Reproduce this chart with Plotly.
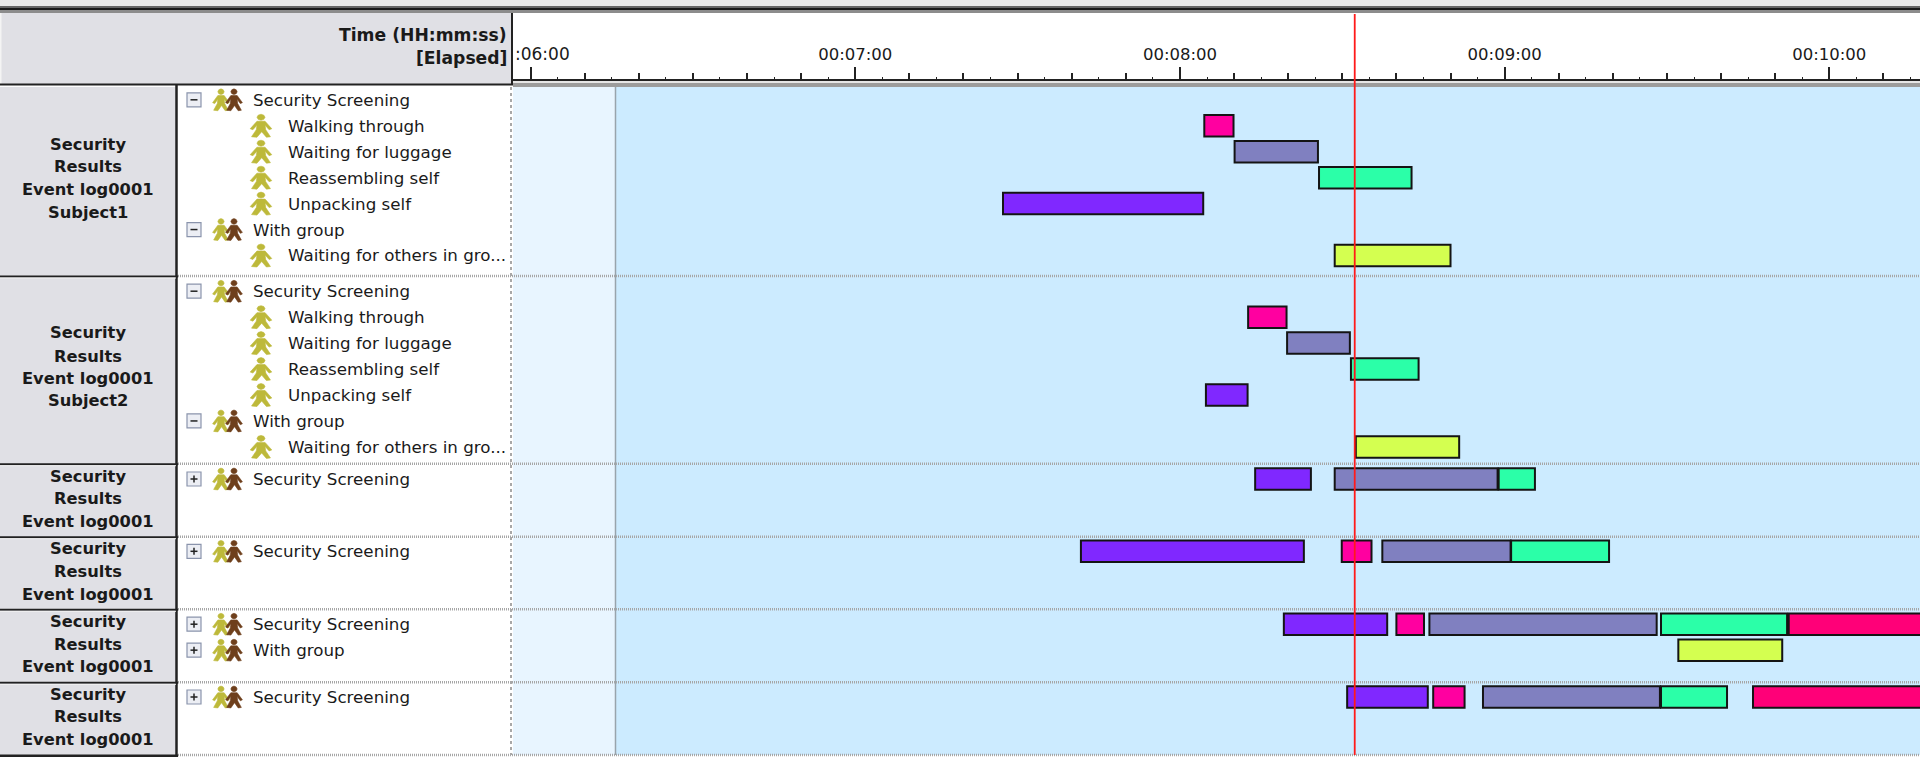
import plotly.graph_objects as go

# ---------- data (times in elapsed seconds) ----------
row_labels = [
    ["Security", "Results", "Event log0001", "Subject1"],
    ["Security", "Results", "Event log0001", "Subject2"],
    ["Security", "Results", "Event log0001"],
    ["Security", "Results", "Event log0001"],
    ["Security", "Results", "Event log0001"],
    ["Security", "Results", "Event log0001"],
]
expanded_tree = [
    ("Security Screening", 0), ("Walking through", 1), ("Waiting for luggage", 1),
    ("Reassembling self", 1), ("Unpacking self", 1), ("With group", 0),
    ("Waiting for others in gro...", 1),
]
collapsed_trees = [["Security Screening"], ["Security Screening"],
                   ["Security Screening", "With group"], ["Security Screening"]]

major_tick_seconds = [360, 420, 480, 540, 600]
major_tick_text = ["", "00:07:00", "00:08:00", "00:09:00", "00:10:00"]
clipped_first_label = ":06:00"
cursor_time = 512.3

walking_row = [0, 1, 3, 4, 5]
walking_lane = [1, 1, 0, 0, 0]
walking_start = [484.5, 492.6, 509.9, 520.0, 526.8]
walking_end = [489.9, 499.7, 515.4, 525.1, 532.6]

luggage_row = [0, 1, 2, 3, 4, 5]
luggage_lane = [2, 2, 0, 0, 0, 0]
luggage_start = [490.1, 499.8, 508.6, 517.4, 526.1, 536.0]
luggage_end = [505.5, 511.4, 538.7, 541.1, 568.1, 568.7]

reassembling_row = [0, 1, 2, 3, 4, 5]
reassembling_lane = [3, 3, 0, 0, 0, 0]
reassembling_start = [505.7, 511.6, 538.9, 541.2, 568.9, 568.9]
reassembling_end = [522.8, 524.1, 545.6, 559.3, 592.2, 581.1]

unpacking_row = [0, 1, 2, 3, 4, 5]
unpacking_lane = [4, 4, 0, 0, 0, 0]
unpacking_start = [447.3, 484.8, 493.9, 461.7, 499.2, 510.9]
unpacking_end = [484.3, 492.5, 504.2, 502.9, 518.3, 525.8]

others_row = [0, 1, 4]
others_lane = [6, 6, 1]
others_start = [508.6, 512.5, 572.1]
others_end = [530.0, 531.6, 591.3]

extra_row = [4, 5]
extra_lane = [0, 0]
extra_start = [592.5, 585.9]
extra_end = [625.0, 625.0]

# ---------- layout constants (pixels of the 1920x757 page) ----------
W, H = 1920, 757
PANEL_L, LIGHT_R, TREE_L, LABEL_R = 513, 615.5, 178, 176
AXIS_Y = 79.5
ROW_BOTTOMS = [276, 463.7, 536.7, 609.3, 682.3, 755]
FIRST_LANE = [99.8, 291.2, 479, 551.3, 624.2, 697]
PITCH = 25.95
LABEL_Y = [[144, 166.7, 189.3, 212], [333, 356, 378.5, 400.5], [476, 498.3, 521],
           [548.7, 571.3, 594], [621.3, 644, 666.7], [694, 716.7, 739.3]]
X_RANGE = [356.75, 616.76]
BAR_H = 21.5
FONT = "DejaVu Sans"


def px(x):
    return x / W


def py(y):
    return 1 - y / H


def rect(x0, y0, x1, y1, fill, layer="below"):
    return dict(type="rect", xref="paper", yref="paper", x0=px(x0), x1=px(x1),
                y0=py(y0), y1=py(y1), fillcolor=fill, line_width=0, layer=layer)


def hline(x0, x1, y, color, width=2, dash="solid", layer="below"):
    return dict(type="line", xref="paper", yref="paper", x0=px(x0), x1=px(x1),
                y0=py(y), y1=py(y), line=dict(color=color, width=width, dash=dash), layer=layer)


def vline(x, y0, y1, color, width=2, dash="solid", layer="below"):
    return dict(type="line", xref="paper", yref="paper", x0=px(x), x1=px(x),
                y0=py(y0), y1=py(y1), line=dict(color=color, width=width, dash=dash), layer=layer)


BODY = [(-3, -4.5), (3, -4.5), (8, 3), (6, 4), (3, -0.5), (3.5, 4), (7, 11), (4, 11.5), (0.5, 6),
        (-3, 11.5), (-7, 11), (-3.5, 4), (-3, -0.5), (-6, 4), (-8, 3)]
HEAD = [(0, -11.5), (2.1, -10.6), (3, -8.5), (2.1, -6.4), (0, -5.5), (-2.1, -6.4), (-3, -8.5), (-2.1, -10.6)]


def person(cx, cy, fill, scale=1.0, xscale=None):
    xs = xscale or scale

    def poly(pts):
        return "M" + " L".join(f"{px(cx + a * xs):.5f},{py(cy + b * scale):.5f}" for a, b in pts) + " Z"
    return dict(type="path", xref="paper", yref="paper", path=poly(BODY) + " " + poly(HEAD),
                fillcolor=fill, line=dict(color=fill, width=0.6), layer="below")


shapes = []
annotations = []


def text(x, y, s, size=16.7, bold=False, anchor="left", color="#1a1a1a"):
    annotations.append(dict(xref="paper", yref="paper", x=px(x), y=py(y), text=f"<b>{s}</b>" if bold else s,
                            showarrow=False, xanchor=anchor, yanchor="middle",
                            font=dict(family=FONT, size=size, color=color), borderpad=0, borderwidth=0))


def group_node(y, name, expanded):
    shapes.append(dict(type="rect", xref="paper", yref="paper", x0=px(187), x1=px(201), y0=py(y - 7), y1=py(y + 7),
                       fillcolor="#ECEEF4", line=dict(color="#8A94AC", width=1.2), layer="below"))
    shapes.append(hline(190.5, 197.5, y, "#222222", 1.5))
    if not expanded:
        shapes.append(vline(194, y - 3.5, y + 3.5, "#222222", 1.5))
    shapes.append(person(221, y, "#BDB93A", 0.95, 1.05))
    shapes.append(person(234, y, "#6E3F1C", 0.95, 1.05))
    text(253, y, name)


# chrome
shapes += [
    rect(0, 0, W, 6, "#E9E9E9"), rect(0, 6, W, 8, "#666666"), rect(0, 8, W, 10, "#1A1A1A"),
    rect(0, 10, W, 13, "#8C8C8C"),
    rect(0, 13, PANEL_L - 1, 85, "#E0E0E5"),
    rect(0, 87, LABEL_R, 757, "#E0E0E5"),
    rect(TREE_L, 87, PANEL_L - 2, 757, "#FFFFFF"),
    rect(PANEL_L, 86, LIGHT_R, 755, "#E8F5FF"),
    rect(LIGHT_R, 86, W, 755, "#CCEBFF"),
    rect(PANEL_L, 81, W, 83, "#E6E6E6"), rect(PANEL_L, 83, W, 87, "#9C9C9C"),
    rect(0, 13, 1.5, 85, "#F4F4F4"),
    hline(0, PANEL_L, 84.5, "#222222", 2),
    vline(512, 13, 85, "#222222", 2),
    vline(LABEL_R + 0.5, 85, 757, "#222222", 2.5),
    vline(LIGHT_R, 87, 755, "#98A4AC", 1.5),
    vline(511, 87, 755, "#A8A8A8", 2, "dot"),
]
for b in ROW_BOTTOMS:
    shapes.append(hline(TREE_L, W, b, "#A6A6A6", 2.6, "1px,1px"))
    shapes.append(hline(0, LABEL_R + 2, b + 0.5, "#222222", 2))
    shapes.append(hline(0, LABEL_R, b + 2, "#F2F2F2", 1))
shapes.append(hline(0, LABEL_R + 2, 756.5, "#222222", 2))

# header text
text(507, 35, "Time (HH:mm:ss)", 17.2, True, "right")
text(507, 58, "[Elapsed]", 17.2, True, "right")
text(515, 54, clipped_first_label, 17)

# row labels
for lines, ys in zip(row_labels, LABEL_Y):
    for s, y in zip(lines, ys):
        text(88, y, s, 16.3, True, "center")

# trees
for r in (0, 1):
    for i, (name, depth) in enumerate(expanded_tree):
        y = FIRST_LANE[r] + i * PITCH
        if depth == 0:
            group_node(y, name, True)
        else:
            shapes.append(person(261, y, "#BDB93A", 1.0, 1.35))
            text(288, y, name)
for r, names in zip((2, 3, 4, 5), collapsed_trees):
    for i, name in enumerate(names):
        group_node(FIRST_LANE[r] + i * PITCH, name, False)

# cursor (on top of bars)
shapes.append(dict(type="line", xref="x", yref="y", x0=cursor_time, x1=cursor_time, y0=14, y1=755,
                   line=dict(color="#FF1A1A", width=1.8), layer="above"))

fig = go.Figure()


def add_bars(name, rows, lanes, starts, ends, color):
    y = [FIRST_LANE[r] + l * PITCH for r, l in zip(rows, lanes)]
    fig.add_trace(go.Bar(name=name, orientation="h", y=y, base=starts,
                         x=[e - s for s, e in zip(starts, ends)], width=BAR_H,
                         marker=dict(color=color, line=dict(color="#141414", width=2)),
                         showlegend=False, hoverinfo="skip"))


add_bars("Walking through", walking_row, walking_lane, walking_start, walking_end, "#FF00A0")
add_bars("Waiting for luggage", luggage_row, luggage_lane, luggage_start, luggage_end, "#8080C0")
add_bars("Reassembling self", reassembling_row, reassembling_lane, reassembling_start, reassembling_end, "#2BFFA8")
add_bars("Unpacking self", unpacking_row, unpacking_lane, unpacking_start, unpacking_end, "#8028FF")
add_bars("Waiting for others", others_row, others_lane, others_start, others_end, "#D4FF50")
add_bars("Other", extra_row, extra_lane, extra_start, extra_end, "#FF0078")

five_second_ticks = list(range(360, 620, 5))

fig.update_layout(
    width=W, height=H, margin=dict(l=0, r=0, t=0, b=0), paper_bgcolor="#FFFFFF", plot_bgcolor="rgba(0,0,0,0)",
    barmode="overlay", showlegend=False, shapes=shapes, annotations=annotations,
    xaxis=dict(domain=[PANEL_L / W, 1], range=X_RANGE, side="top", anchor="free", position=py(AXIS_Y),
               tickmode="array", tickvals=major_tick_seconds, ticktext=major_tick_text, ticks="outside",
               ticklen=12, tickwidth=1.5, tickcolor="#222222", showline=True, linecolor="#222222", linewidth=2,
               showgrid=False, zeroline=False,
               tickfont=dict(family=FONT, size=16.5, color="#1a1a1a"),
               minor=dict(dtick=10, tick0=0, ticks="outside", ticklen=6, tickwidth=1.5, tickcolor="#222222", showgrid=False)),
    xaxis2=dict(domain=[PANEL_L / W, 1], range=X_RANGE, overlaying="x", side="top", anchor="free", position=py(AXIS_Y),
                tickmode="array", tickvals=five_second_ticks, ticks="outside", ticklen=3, tickwidth=1.2,
                tickcolor="#222222", showticklabels=False, showgrid=False, zeroline=False, showline=False),
    yaxis=dict(domain=[0, 1], range=[H, 0], visible=False),
)
# an empty trace keeps the 5 s tick axis alive
fig.add_trace(go.Scatter(x=[X_RANGE[0]], y=[0], xaxis="x2", mode="none", showlegend=False, hoverinfo="skip"))

fig.write_html("out.html", config={"displayModeBar": False},
               post_script="document.body.style.margin='0';document.documentElement.style.overflow='hidden';")
